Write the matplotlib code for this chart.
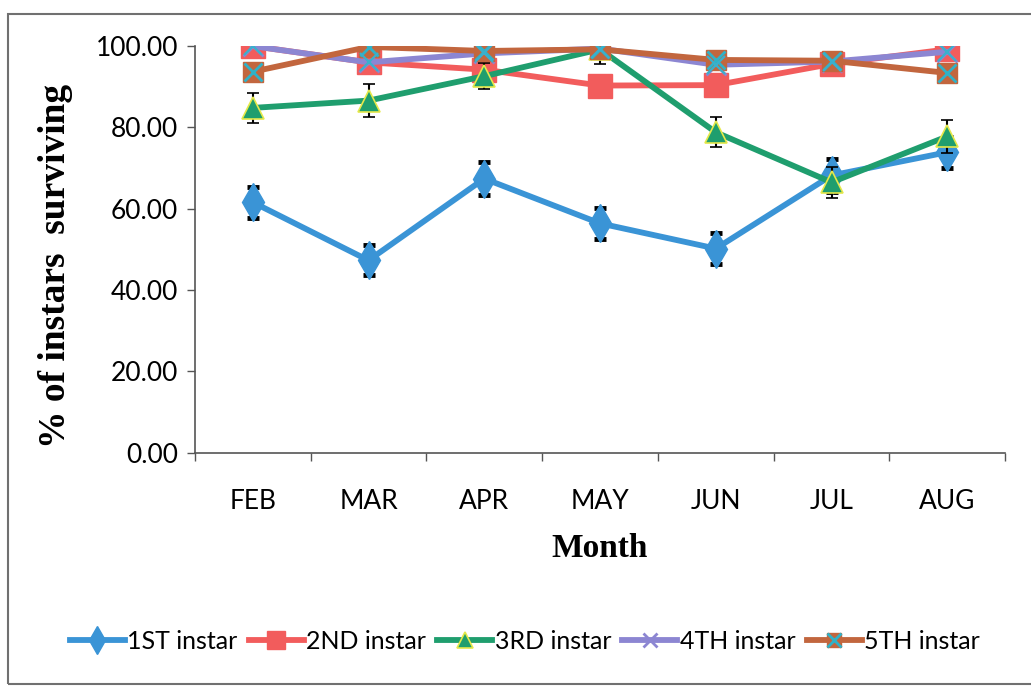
import matplotlib
matplotlib.use("Agg")
import matplotlib.pyplot as plt
from matplotlib.patches import Rectangle

months = ["FEB", "MAR", "APR", "MAY", "JUN", "JUL", "AUG"]

instar_1 = [61.6, 47.3, 67.4, 56.4, 50.2, 68.2, 73.9]
instar_1_err = [3.8, 3.7, 4.0, 3.8, 3.9, 4.0, 3.8]
instar_2 = [100.0, 96.0, 94.2, 90.3, 90.4, 95.6, 99.2]
instar_3 = [84.8, 86.6, 92.6, 99.2, 78.8, 66.5, 77.8]
instar_3_err = [3.7, 4.1, 3.2, 3.5, 3.7, 3.8, 4.0]
instar_4 = [100.0, 96.0, 98.2, 99.4, 95.4, 96.2, 98.6]
instar_5 = [93.7, 99.8, 98.8, 99.2, 96.6, 96.4, 93.4]

labels = ["1ST instar", "2ND instar", "3RD instar", "4TH instar", "5TH instar"]

tick_font = "Lato"
title_font = "Liberation Serif"
lw = 4.2

fig = plt.figure(figsize=(10.31, 6.88), dpi=100)
ax = fig.add_axes([0.189, 0.342, 0.786, 0.591])

x = list(range(len(months)))

l1 = ax.errorbar(x, instar_1, yerr=instar_1_err, color="#3a94d6", lw=lw,
                 marker="d", ms=19, mec="#3a94d6", ecolor="black",
                 elinewidth=1.5, capsize=4, capthick=3.5, zorder=3)
l2, = ax.plot(x, instar_2, color="#f25c5c", lw=lw, marker="s", ms=17,
              mec="#f25c5c", zorder=4)
l3 = ax.errorbar(x, instar_3, yerr=instar_3_err, color="#1f9e6e", lw=lw,
                 marker="^", ms=16, mfc="#1f9e6e", mec="#e5e84a", mew=1.2,
                 ecolor="black", elinewidth=1.5, capsize=4, capthick=3.5,
                 zorder=5)
l4, = ax.plot(x, instar_4, color="#8c86d2", lw=lw, marker="x", ms=14,
              mew=2, zorder=6)
l5, = ax.plot(x, instar_5, color="#c2663e", lw=lw, marker="s", ms=14,
              mfc="#c2663e", mec="#c2663e", zorder=7)
l5x, = ax.plot(x, instar_5, ls="none", marker="x", ms=13, mew=2,
               color="#2fb2c8", zorder=8)
# teal crosses over the 4TH markers too
ax.plot(x, instar_4, ls="none", marker="x", ms=13, mew=1.6,
        color="#3ab0cc", zorder=8)

ax.set_xlim(-0.5, len(months) - 0.5)
ax.set_ylim(0, 100)
ax.set_yticks([0, 20, 40, 60, 80, 100])
ax.set_yticklabels([f"{v:.2f}" for v in [0, 20, 40, 60, 80, 100]],
                   fontfamily=tick_font, fontsize=19)
ax.set_xticks(x)
ax.set_xticklabels(months, fontfamily=tick_font, fontsize=19)
ax.set_xticks([i + 0.5 for i in range(-1, len(months))], minor=True)
ax.tick_params(axis="x", which="major", length=0, pad=26)
ax.tick_params(axis="x", which="minor", length=6, width=1, color="#555555")
ax.tick_params(axis="y", length=6, width=1, color="#555555", pad=6)

for side in ["top", "right"]:
    ax.spines[side].set_visible(False)
for side in ["left", "bottom"]:
    ax.spines[side].set_color("#555555")
    ax.spines[side].set_linewidth(1.2)

ax.set_xlabel("Month", fontfamily=title_font, fontweight="bold",
              fontsize=24, labelpad=14)
ax.set_ylabel("% of instars  surviving", fontfamily=title_font,
              fontweight="bold", fontsize=27)
ax.yaxis.set_label_coords(-0.15, 0.46)

handles = [l1.lines[0], l2, l3.lines[0], l4, (l5, l5x)]
fig.legend(handles, labels, loc="center", bbox_to_anchor=(0.509, 0.068),
           ncol=5, frameon=False, handlelength=2.2, handletextpad=0.1,
           columnspacing=0.45, markerscale=0.75,
           prop={"family": tick_font, "size": 18})

fig.patches.append(Rectangle((0.008, 0.006), 1.0, 0.974,
                             transform=fig.transFigure, fill=False,
                             edgecolor="#707070", lw=1.5))

fig.savefig("out.png", dpi=100, facecolor="white")
